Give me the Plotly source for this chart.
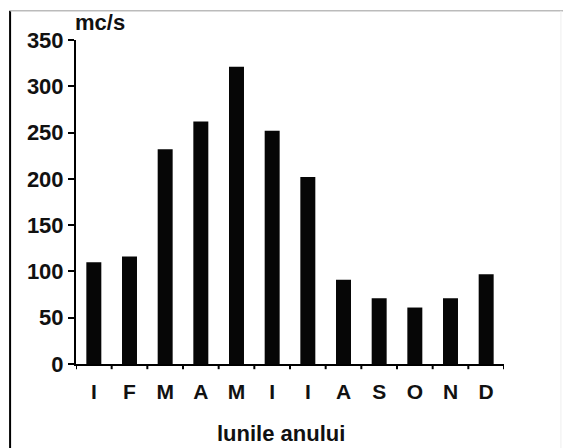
import plotly.graph_objects as go

luni = ["I", "F", "M", "A", "M", "I", "I", "A", "S", "O", "N", "D"]
debit = [110, 116, 232, 262, 321, 252, 202, 91, 71, 61, 71, 97]
y_ticks = [0, 50, 100, 150, 200, 250, 300, 350]

# unique positions, month letters repeat
pos = list(range(len(luni)))

fig = go.Figure(go.Bar(x=pos, y=debit, marker=dict(color="#060606", line=dict(width=0)), width=0.42))

fnt = dict(family="Liberation Sans, Arial", color="#111", size=22, weight="bold")

fig.update_xaxes(
    range=[-0.5, 11.5], tickmode="array", tickvals=pos, ticktext=luni,
    showline=True, linecolor="black", linewidth=2, ticks="", showgrid=False, zeroline=False,
    tickfont=dict(fnt, size=21), ticklabelstandoff=8,
)
fig.update_yaxes(
    range=[0, 350], tickvals=y_ticks, showline=True, linecolor="black", linewidth=2,
    ticks="outside", ticklen=6, tickwidth=2, tickcolor="black", showgrid=False, zeroline=False,
    tickfont=fnt,
)

# boundary ticks on the x axis
for b in [i - 0.5 for i in range(len(luni) + 1)]:
    fig.add_shape(type="line", xref="x", yref="paper", x0=b, x1=b, y0=0, y1=-0.016,
                  line=dict(color="black", width=2))

fig.add_annotation(text="mc/s", xref="paper", yref="paper", x=0.056, y=1.055,
                   showarrow=False, font=dict(fnt, size=22), xanchor="center", yanchor="middle")
fig.add_annotation(text="lunile anului", xref="paper", yref="paper", x=0.478, y=-0.213,
                   showarrow=False, font=dict(fnt, size=22), xanchor="center", yanchor="middle")

# frame of the picture
fig.add_shape(type="line", xref="paper", yref="paper", x0=-0.154, x1=-0.154, y0=1.09, y1=-0.3,
              line=dict(color="black", width=2))
fig.add_shape(type="line", xref="paper", yref="paper", x0=-0.154, x1=1.14, y0=1.09, y1=1.09,
              line=dict(color="#bbb", width=1.5))
fig.add_shape(type="line", xref="paper", yref="paper", x0=1.133, x1=1.133, y0=1.09, y1=-0.3,
              line=dict(color="#eee", width=1))

fig.update_layout(
    width=563, height=448, plot_bgcolor="white", paper_bgcolor="white",
    margin=dict(l=76, r=59, t=40, b=84), showlegend=False, font=fnt,
)
fig.write_html("out.html", config={"displayModeBar": False},
               post_script="document.body.style.margin='0';document.body.style.overflow='hidden';")
